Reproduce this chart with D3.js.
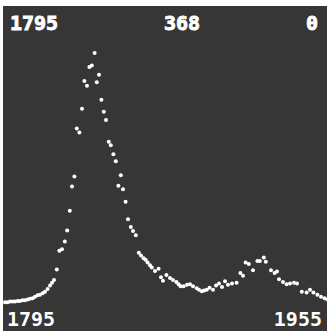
<!DOCTYPE html>
<html>
<head>
<meta charset="utf-8">
<script src="https://cdn.jsdelivr.net/npm/d3@7"></script>
<style>
  body { margin: 0; background: #fff; }
  text { font-family: "DejaVu Sans Mono", monospace; font-weight: bold; fill: #fff; }
</style>
</head>
<body>
<div id="chart"></div>
<script>
// dots: year and value
const years = [
  1795, 1796.3, 1797.5, 1798.8, 1800, 1801.3, 1802.5, 1803.8, 1805, 1806.3,
  1807.5, 1808.8, 1810, 1811.3, 1812.5, 1813.8, 1815, 1816.3, 1817.5, 1818.5,
  1819.5, 1820.9, 1822.2, 1823.5, 1824.9, 1826.1, 1827.4, 1828.5, 1829.7, 1830.9,
  1832.2, 1833.5, 1834.7, 1836, 1837.2, 1838.4, 1839.8, 1840.9, 1842, 1843.2,
  1844.4, 1845.5, 1846.9, 1847.9, 1849.2, 1850.4, 1851.7, 1852.9, 1854, 1855.3,
  1856.5, 1857.9, 1859, 1860.4, 1861.9, 1863, 1864.3, 1865.3, 1866.3, 1867.5,
  1868.4, 1870, 1871.8, 1873, 1874, 1875.7, 1877.5, 1879, 1880.7, 1881.8,
  1882.8, 1884.3, 1886, 1887.5, 1889, 1890.9, 1892, 1893.4, 1894.5, 1895.9,
  1897.3, 1899, 1900.5, 1902, 1903.5, 1905, 1906.5, 1908.5, 1910.8, 1912.7,
  1914, 1915.3, 1916.9, 1919, 1921.2, 1922.4, 1924.4, 1925.4, 1928, 1929.8,
  1931, 1932, 1934, 1935.8, 1937.5, 1939.5, 1941, 1943.4, 1945.8, 1947.5,
  1949.2, 1951.2, 1953, 1954.8, 1956.2
];
const counts = [
  11, 11, 12, 12, 12, 13, 13, 14, 14, 15,
  16, 17, 19, 21, 22, 24, 26, 30, 35, 39,
  43, 58, 85, 87, 98, 114, 142, 177, 191, 260,
  254, 288, 328, 321, 348, 350, 368, 326, 337, 301,
  284, 272, 241, 236, 223, 213, 178, 193, 173, 155,
  130, 119, 113, 107, 82, 78, 74, 72, 68, 64,
  61, 56, 59, 47, 42, 50, 46, 43, 40, 37,
  34, 34, 36, 37, 34, 31, 29, 27, 28, 29,
  32, 29, 35, 38, 33, 41, 36, 38, 39, 53,
  49, 68, 66, 57, 70, 70, 75, 69, 57, 53,
  55, 44, 40, 37, 38, 39, 38, 26, 25, 29,
  25, 22, 19, 17, 15
];
const topLabels = ["1795", "368", "0"];
const bottomLabels = ["1795", "1955"];

const W = 330, H = 334;

const svg = d3.select("#chart")
  .append("svg")
    .attr("width", W)
    .attr("height", H);

svg.append("rect")
  .attr("x", 3).attr("y", 6)
  .attr("width", 324).attr("height", 325)
  .attr("fill", "#363636");

const x = d3.scaleLinear()
  .domain([1795, 1955])
  .range([5, 325]);

const y = d3.scaleLinear()
  .domain([0, 368])
  .range([310, 53]);

const pts = years.map((yr, i) => ({year: yr, value: counts[i]}));

svg.append("g")
  .selectAll("circle")
  .data(pts)
  .join("circle")
    .attr("cx", d => x(d.year))
    .attr("cy", d => y(d.value))
    .attr("r", 2)
    .attr("fill", "#fff");

// header line: start year, max, min
const header = svg.append("g")
  .attr("font-size", 20)
  .attr("stroke", "#fff")
  .attr("stroke-width", 0.9);
header.append("text").attr("x", 10).attr("y", 30).text(topLabels[0]);
header.append("text").attr("x", 182).attr("y", 30)
  .attr("text-anchor", "middle").text(topLabels[1]);
header.append("text").attr("x", 318).attr("y", 30)
  .attr("text-anchor", "end").text(topLabels[2]);

svg.append("text").attr("x", x(1795) + 2).attr("y", 326).attr("font-size", 20).text(bottomLabels[0]);
svg.append("text").attr("x", x(1955) - 3).attr("y", 326).attr("font-size", 20)
  .attr("text-anchor", "end").text(bottomLabels[1]);
</script>
</body>
</html>
